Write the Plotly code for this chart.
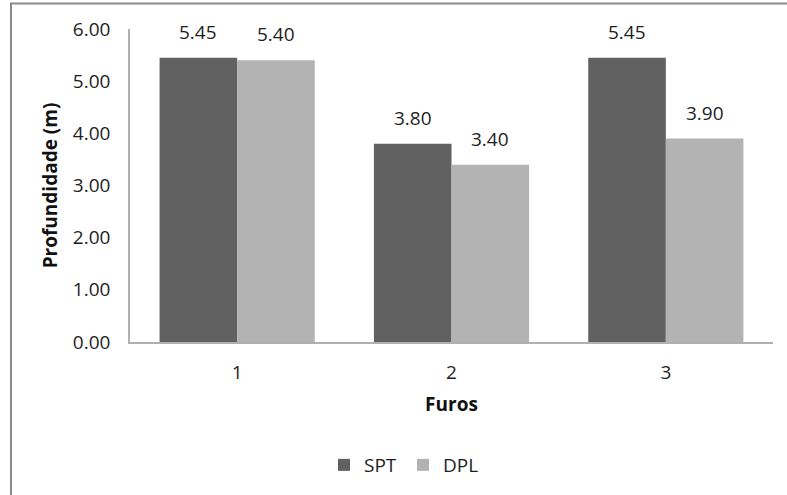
import plotly.graph_objects as go

furos = [1, 2, 3]
tick_labels = ["1", "2", "3"]
spt = [5.45, 3.80, 5.45]
dpl = [5.40, 3.40, 3.90]

FONT = "Open Sans"
FS = 19
bar_w = 0.362

fig = go.Figure()
fig.add_trace(go.Bar(x=furos, y=spt, name="SPT", width=bar_w, offset=-bar_w,
                     marker=dict(color="#616161", line=dict(width=0))))
fig.add_trace(go.Bar(x=furos, y=dpl, name="DPL", width=bar_w, offset=0,
                     marker=dict(color="#b3b3b3", line=dict(width=0))))

annotations = []
for xs, ys, sign in ((furos, spt, -1), (furos, dpl, 1)):
    for xv, yv in zip(xs, ys):
        annotations.append(dict(x=xv + sign * bar_w / 2, y=yv, xref="x", yref="y",
                                text=f"{yv:.2f}", showarrow=False, yanchor="bottom",
                                yshift=11, font=dict(family=FONT, size=FS, color="#1e1e1e")))

fig.update_layout(
    width=787, height=495,
    margin=dict(l=130, r=14, t=29, b=152),
    paper_bgcolor="white", plot_bgcolor="white",
    font=dict(family=FONT, size=FS, color="#1e1e1e"),
    showlegend=True,
    legend=dict(orientation="h", x=(324 - 130) / 643, xanchor="left",
                y=(343 - 465) / 314, yanchor="middle",
                font=dict(family=FONT, size=FS, color="#1e1e1e"),
                itemwidth=30, entrywidth=34, traceorder="normal"),
    annotations=annotations,
    xaxis=dict(range=[0.5, 3.5], tickvals=furos, ticktext=tick_labels,
               showline=True, linecolor="#b0b0b0", linewidth=1.5,
               ticks="", showgrid=False, zeroline=False,
               ticklabelstandoff=12,
               title=dict(text="<b>Furos</b>", font=dict(family=FONT, size=FS, color="#111111"),
                          standoff=14)),
    yaxis=dict(range=[0, 6], tickvals=[0, 1, 2, 3, 4, 5, 6], tickformat=".2f",
               showline=True, linecolor="#b0b0b0", linewidth=1.5,
               ticks="", showgrid=False, zeroline=False,
               ticklabelstandoff=14,
               title=dict(text="<b>Profundidade (m)</b>",
                          font=dict(family=FONT, size=FS, color="#111111"), standoff=10)),
    shapes=[dict(type="rect", xref="paper", yref="paper",
                 x0=(11 - 130) / 643, x1=(800 - 130) / 643,
                 y0=(343 - 510) / 314, y1=(343 - 3.5) / 314,
                 line=dict(color="#8a8a8a", width=2), fillcolor="rgba(0,0,0,0)", layer="below")],
)

fig.write_html("out.html")
